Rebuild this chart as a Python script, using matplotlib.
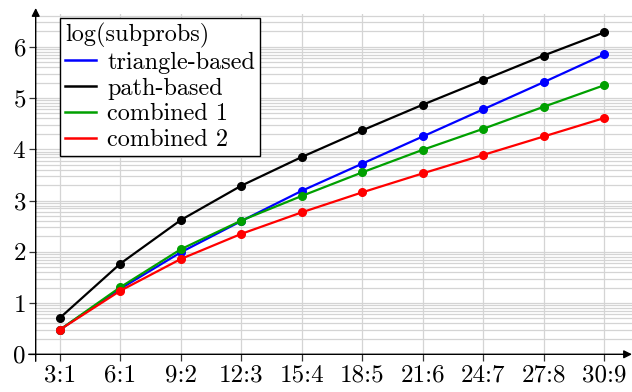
import numpy as np
import matplotlib
matplotlib.use("Agg")
import matplotlib.pyplot as plt
from matplotlib.ticker import FixedLocator

plt.rcParams['font.family'] = 'cmr10'
plt.rcParams['mathtext.fontset'] = 'cm'
plt.rcParams['axes.unicode_minus'] = False
plt.rcParams['axes.formatter.use_mathtext'] = True

# -----------------------------
# Data (log10 of number of subproblems)
# -----------------------------
categories = ["3:1", "6:1", "9:2", "12:3", "15:4", "18:5", "21:6", "24:7", "27:8", "30:9"]

triangle_based = [0.48, 1.28, 1.99, 2.60, 3.19, 3.72, 4.25, 4.78, 5.31, 5.85]
path_based = [0.71, 1.77, 2.62, 3.29, 3.85, 4.37, 4.87, 5.35, 5.83, 6.28]
combined_1 = [0.48, 1.31, 2.05, 2.61, 3.09, 3.55, 3.99, 4.40, 4.83, 5.25]
combined_2 = [0.48, 1.24, 1.86, 2.35, 2.77, 3.16, 3.53, 3.89, 4.25, 4.61]

series = [
    ("triangle-based", triangle_based, "#0000ff"),
    ("path-based", path_based, "#000000"),
    ("combined 1", combined_1, "#00a000"),
    ("combined 2", combined_2, "#ff0000"),
]

fs_tick = 18
fs_leg = 17.5

fig = plt.figure(figsize=(6.32, 3.92), dpi=100)
ax = fig.add_axes([35.7 / 632, 37.7 / 392, 1 - 35.7 / 632, (354.3 - 14) / 392])

x = np.arange(len(categories))
for label, vals, color in series:
    ax.plot(x, vals, color=color, lw=1.6, marker='o', markersize=5.5, label=label, zorder=3)

ax.set_xlim(-0.40, 9.46)
ax.set_ylim(0, 6.64)
ax.set_xticks(x)
ax.set_xticklabels(categories)
ax.set_yticks(range(0, 7))

# log-style minor grid inside each unit
minor = [k + np.log10(m) for k in range(0, 7) for m in range(2, 10) if k + np.log10(m) < 6.64]
ax.yaxis.set_minor_locator(FixedLocator(minor))
ax.grid(True, which='major', color='#d4d4d4', lw=0.9, zorder=0)
ax.grid(True, which='minor', axis='y', color='#d4d4d4', lw=0.9, zorder=0)
ax.set_axisbelow(True)

ax.tick_params(which='major', direction='out', length=5, width=0.9, labelsize=fs_tick, pad=2, color='#333333')
ax.tick_params(which='minor', length=0)

for s in ax.spines.values():
    s.set_visible(False)

# axis lines with arrows (pgfplots style)
ax.annotate('', xy=(0, 1.0 + 6 / 340), xytext=(0, -7 / 340), xycoords='axes fraction',
            arrowprops=dict(arrowstyle='-|>', color='black', lw=1.0, mutation_scale=12, shrinkA=0, shrinkB=0))
ax.annotate('', xy=(1.0, 0), xytext=(-7 / 596, 0), xycoords='axes fraction',
            arrowprops=dict(arrowstyle='-|>', color='black', lw=1.0, mutation_scale=12, shrinkA=0, shrinkB=0))

leg = fig.legend(loc='upper left', bbox_to_anchor=(60 / 632, 1 - 18 / 392), borderaxespad=0,
                 title='log(subprobs)', alignment='left', fontsize=fs_leg, title_fontsize=fs_leg,
                 fancybox=False, edgecolor='black', framealpha=1, handlelength=1.3,
                 handletextpad=0.45, labelspacing=0.15, borderpad=0.2)
leg.get_frame().set_linewidth(1.0)
for h in leg.get_lines():
    h.set_marker('')
    h.set_linewidth(1.8)

plt.savefig("out.png", dpi=100)
